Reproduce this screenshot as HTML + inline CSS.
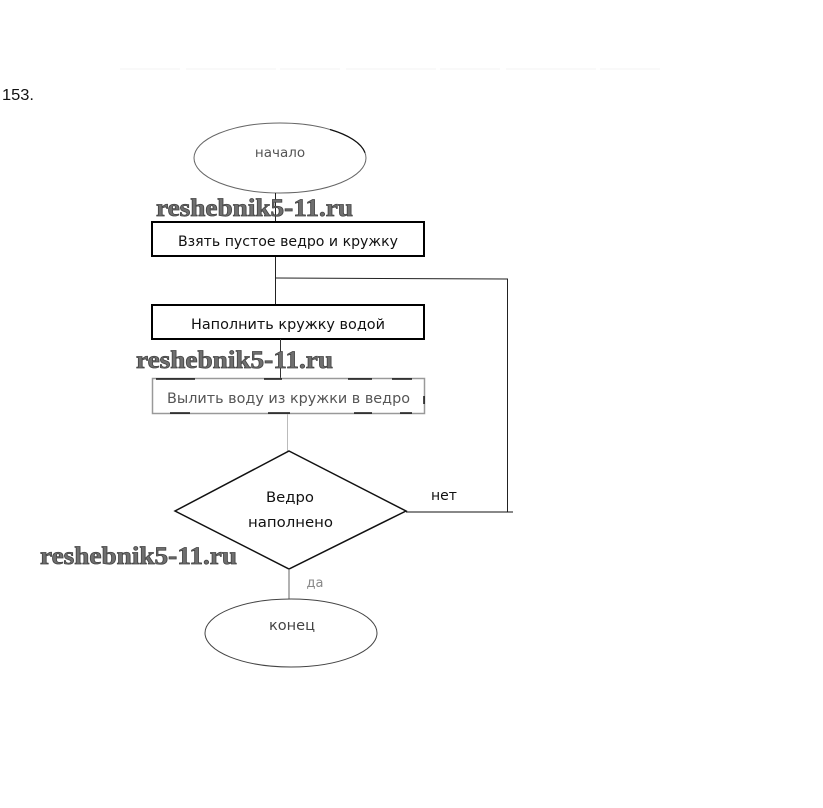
<!DOCTYPE html>
<html><head><meta charset="utf-8">
<style>
html,body{margin:0;padding:0;background:#fff}
svg{display:block}
text{font-family:"DejaVu Sans","Liberation Sans",sans-serif}
.t{font-size:14px;fill:#111;text-anchor:middle}
.w{font-family:"Liberation Serif","DejaVu Serif",serif;font-size:25px;font-weight:bold;fill:#6f6f6f;stroke:#444;stroke-width:.8px}
</style></head><body>
<svg width="823" height="808" viewBox="0 0 823 808" xmlns="http://www.w3.org/2000/svg">
<rect width="823" height="808" fill="#fff"/>
<line x1="120" y1="69" x2="660" y2="69" stroke="#f9f9f9" stroke-width="2" stroke-dasharray="60 6 90 4"/>
<text x="2" y="100" style="font-family:'Liberation Sans',sans-serif;font-size:16px;fill:#111" textLength="32" lengthAdjust="spacingAndGlyphs">153.</text>

<ellipse cx="280" cy="158" rx="86" ry="35" fill="none" stroke="#666" stroke-width="1"/>
<path d="M330 129.500A86 35 0 0 1 365 152.700" fill="none" stroke="#111" stroke-width="1.200"/>
<text class="t" x="280" y="157" style="fill:#555;font-size:13.500px">начало</text>
<line x1="275.500" y1="193" x2="275.500" y2="222" stroke="#222"/>

<rect x="152" y="222" width="272" height="34" fill="#fff" stroke="#000" stroke-width="2"/>
<text class="t" x="288" y="246" textLength="220" lengthAdjust="spacingAndGlyphs">Взять пустое ведро и кружку</text>

<line x1="275.500" y1="257" x2="275.500" y2="305" stroke="#222"/>
<polyline points="276,278 507.500,279 507.500,512" fill="none" stroke="#222"/>

<rect x="152" y="305" width="272" height="34" fill="#fff" stroke="#000" stroke-width="2"/>
<text class="t" x="288" y="329" textLength="194" lengthAdjust="spacingAndGlyphs">Наполнить кружку водой</text>

<line x1="280.500" y1="339" x2="280.500" y2="378" stroke="#333"/>

<rect x="152.500" y="378.500" width="272" height="35" fill="#fff" stroke="#999" stroke-width="1.500"/>
<path d="M156 379H195M264 379H282M348 379H372M392 379H412M170 413H190M268 413H290M354 413H372M400 413H412M424 396V404" stroke="#111" stroke-width="1.500" fill="none"/>
<text class="t" x="288.500" y="403" style="fill:#555" textLength="243" lengthAdjust="spacingAndGlyphs">Вылить воду из кружки в ведро</text>

<line x1="287.500" y1="414" x2="287.500" y2="451" stroke="#bbb"/>

<polygon points="289,451 406,511 289,569 175,511" fill="#fff" stroke="#111" stroke-width="1.500"/>
<text class="t" x="290" y="502" textLength="48" lengthAdjust="spacingAndGlyphs">Ведро</text>
<text class="t" x="290.500" y="527" textLength="85" lengthAdjust="spacingAndGlyphs">наполнено</text>
<line x1="406" y1="512" x2="513" y2="512" stroke="#111"/>
<text class="t" x="444" y="500">нет</text>

<line x1="289" y1="569" x2="289" y2="599" stroke="#666"/>
<text class="t" x="315" y="587" style="fill:#888;font-size:13px">да</text>

<ellipse cx="291" cy="633" rx="86" ry="34" fill="none" stroke="#444" stroke-width="1"/>
<text class="t" x="292" y="630" style="fill:#444" textLength="46" lengthAdjust="spacingAndGlyphs">конец</text>

<text class="w" x="156" y="216" textLength="197" lengthAdjust="spacingAndGlyphs">reshebnik5-11.ru</text>
<text class="w" x="136" y="368" textLength="197" lengthAdjust="spacingAndGlyphs">reshebnik5-11.ru</text>
<text class="w" x="40" y="564" textLength="197" lengthAdjust="spacingAndGlyphs">reshebnik5-11.ru</text>
</svg>
</body></html>
